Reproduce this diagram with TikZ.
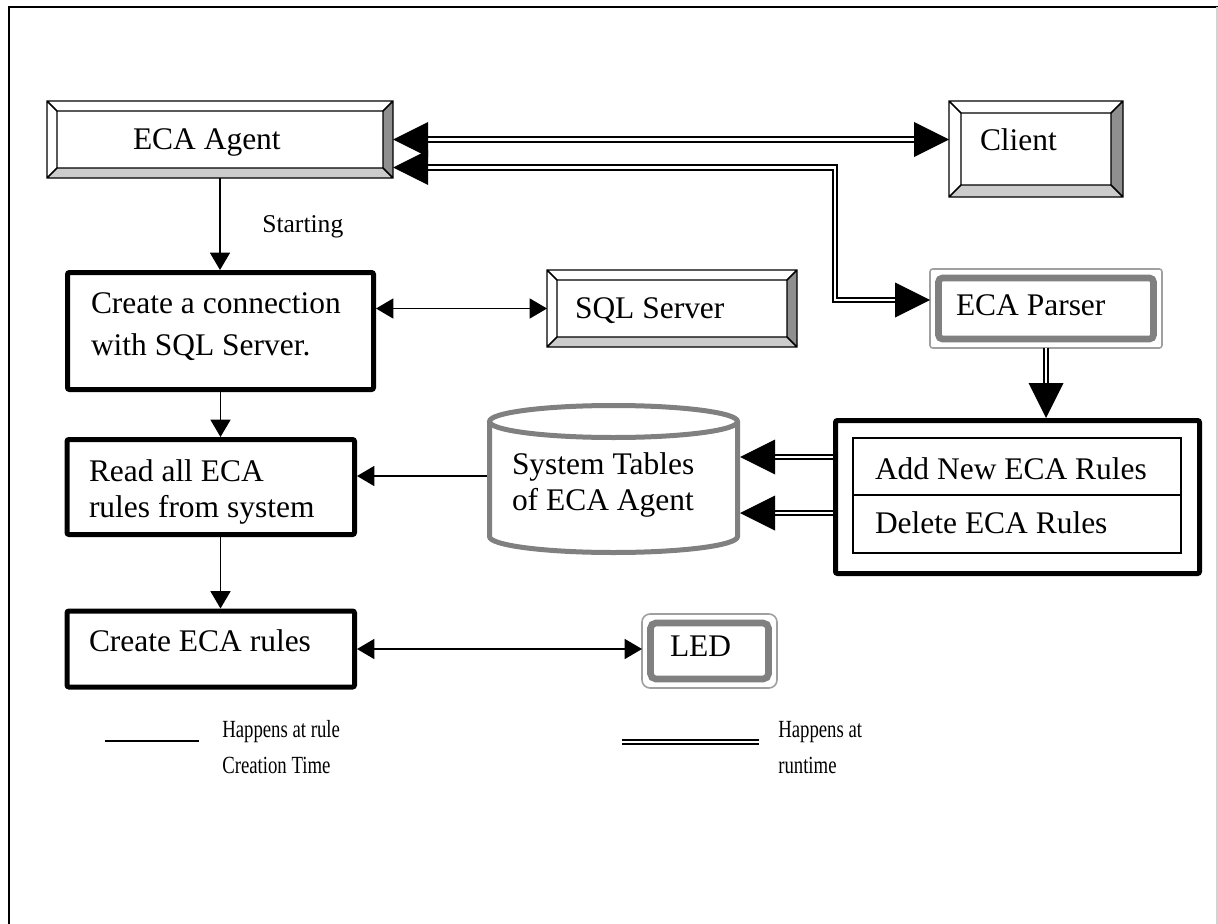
\documentclass[tikz,border=0pt]{standalone}
\usepackage{fontspec}
\setmainfont{Liberation Serif}
\usetikzlibrary{calc,fit,arrows.meta}
\definecolor{bevR}{HTML}{8F8F8F}
\definecolor{bevB}{HTML}{CCCCCC}
\definecolor{pgray}{HTML}{808080}
\definecolor{lgray}{HTML}{A0A0A0}
\newcommand\bevelbox[4]{%
  \node[fit={#2 #3},inner sep=0pt,outer sep=0pt] (#1) {};
  \coordinate (#1-a) at ($(#1.north west)+(#4,#4)$);
  \coordinate (#1-b) at ($(#1.north east)+(-#4,#4)$);
  \coordinate (#1-c) at ($(#1.south east)+(-#4,-#4)$);
  \coordinate (#1-d) at ($(#1.south west)+(#4,-#4)$);
  \fill[white] (#1.north west) rectangle (#1.south east);
  \fill[bevR] (#1.north east) -- (#1.south east) -- (#1-c) -- (#1-b) -- cycle;
  \fill[bevB] (#1.south west) -- (#1.south east) -- (#1-c) -- (#1-d) -- cycle;
  \draw[bevline] (#1.north west) rectangle (#1.south east) (#1-a) rectangle (#1-c)
    (#1.north west) -- (#1-a) (#1.north east) -- (#1-b)
    (#1.south east) -- (#1-c) (#1.south west) -- (#1-d);
}
\newcommand\tipR[1]{\fill (#1) -- ++(-35,-17.5) -- ++(0,35) -- cycle;}
\newcommand\tipL[1]{\fill (#1) -- ++(35,-17.5) -- ++(0,35) -- cycle;}
\newcommand\tipD[1]{\fill (#1) -- ++(-17.5,-35) -- ++(35,0) -- cycle;}
\begin{document}
\begin{tikzpicture}[x=0.75pt,y=-0.75pt,
  txt/.style={anchor=base west,inner sep=0pt,outer sep=0pt,font=\fontsize{23.6pt}{28pt}\selectfont},
  smalltxt/.style={anchor=base west,inner sep=0pt,font=\fontsize{19.2pt}{23pt}\selectfont},
  legtxt/.style={anchor=base west,inner sep=0pt,font=\fontsize{18.5pt}{22pt}\selectfont},
  bevline/.style={line width=1.1pt,line join=miter},
  thickbox/.style={draw,line width=3.75pt,rounded corners=1.5pt,inner sep=0pt,fill=white},
  thinbox/.style={draw,line width=1.1pt,inner sep=0pt,outer sep=0pt},
  arr/.style={line width=1.1pt,-{Triangle[length=13pt,width=15pt]}},
  arrs/.style={line width=1.1pt,{Triangle[length=13pt,width=15pt]}-{Triangle[length=13pt,width=15pt]}},
  dbl/.style={double,double distance=1.7pt,line width=1.5pt},
  cyl/.style={draw=pgray,line width=3.75pt},
]
\useasboundingbox (0,0) rectangle (1218,924);
% frame
\draw[line width=1.5pt] (9,924) -- (9,7) -- (1218,7);
\draw[gray!35,line width=1pt] (1217,7) -- (1217,924);

% beveled boxes
\bevelbox{agent}{(47,101)}{(393,178)}{10}
\node[txt] (agentT) at (133,150) {ECA Agent};
\bevelbox{client}{(949,101)}{(1123,197)}{12}
\node[txt] (clientT) at (980,151) {Client};
\bevelbox{sql}{(547,270)}{(797,347)}{10}
\node[txt] (sqlT) at (575,318) {SQL Server};

% ECA Parser
\node[fit={(930,269) (1162,348)},inner sep=0pt,outer sep=0pt,draw=lgray,line width=1.2pt,rounded corners=2pt] (parser) {};
\draw[pgray,line width=5pt,rounded corners=3pt] ($(parser.north west)+(8.5,9)$) rectangle ($(parser.south east)+(-8.5,-9)$);
\node[txt] (parserT) at (956,315) {ECA Parser};

% LED
\node[fit={(642,614) (777,688)},inner sep=0pt,outer sep=0pt,draw=lgray,line width=1.2pt,rounded corners=6pt] (led) {};
\draw[pgray,line width=5pt,rounded corners=4pt] ($(led.north west)+(8.5,9)$) rectangle ($(led.south east)+(-8.5,-9)$);
\node[txt] (ledT) at (670,656) {LED};

% thick boxes
\node[fit={(67.5,272.5) (373.5,389.5)},thickbox] (conn) {};
\node[txt] (connT1) at (91,313) {Create a connection};
\node[txt] (connT2) at (91,355) {with SQL Server.};
\node[fit={(67,439.5) (354.5,534.5)},thickbox] (read) {};
\node[txt] (readT1) at (89,481) {Read all ECA};
\node[txt] (readT2) at (89,517) {rules from system};
\node[fit={(67,611) (354.5,687)},thickbox] (rules) {};
\node[txt] (rulesT) at (89,651) {Create ECA rules};

% add / delete
\node[fit={(835.5,420.5) (1199.5,573.5)},thickbox] (addbox) {};
\node[fit={(853,438) (1181,495)},thinbox] (addrow) {};
\node[fit={(853,495) (1181,553)},thinbox] (delrow) {};
\node[txt] (addT) at (875,479) {Add New ECA Rules};
\node[txt] (delT) at (875,533) {Delete ECA Rules};

% cylinder
\node[fit={(487,403) (740,555)},inner sep=0pt,outer sep=0pt] (tables) {};
\draw[cyl] (489.5,421.5) -- (489.5,536.5) arc[start angle=180,end angle=0,x radius=124,y radius=16] -- (737.5,421.5);
\draw[cyl] (613.5,421.5) ellipse[x radius=124,y radius=16];
\node[txt] (tablesT1) at (512,474) {System Tables};
\node[txt] (tablesT2) at (512,510) {of ECA Agent};

\node[smalltxt] (startT) at (262,232) {Starting};

% single connectors
\draw[arr] (agent.south) -- (agent.south |- conn.north);
\draw[arr] (conn.south) -- (conn.south |- read.north);
\draw[arr] (conn.south |- read.south) -- (conn.south |- rules.north);
\draw[arrs] (conn.east |- sql.west) -- (sql.west);
\draw[arrs] (rules.east) -- (rules.east -| led.west);
\coordinate (rd) at ($(read.east)+(0,-11)$);
\draw[arr] (rd -| tables.west) -- (rd);

% double connectors
\draw[dbl,shorten <=20pt,shorten >=20pt] (agent.east) -- (agent.east -| client.west);
\tipL{agent.east}
\tipR{agent.east -| client.west}
\coordinate (a2) at ($(agent.east)+(0,28)$);
\coordinate (bend) at (835,300);
\draw[dbl,shorten <=20pt,shorten >=20pt] (a2) -| (bend) -- (bend -| parser.west);
\tipL{a2}
\tipR{bend -| parser.west}
\draw[dbl,shorten >=20pt] (parser.south) -- (parser.south |- addbox.north);
\tipD{parser.south |- addbox.north}
\coordinate (r1) at ($(addbox.west)+(0,-40)$);
\coordinate (r2) at ($(addbox.west)+(0,16)$);
\draw[dbl,shorten >=20pt] (r1) -- (r1 -| tables.east);
\tipL{r1 -| tables.east}
\draw[dbl,shorten >=20pt] (r2) -- (r2 -| tables.east);
\tipL{r2 -| tables.east}

% legend
\coordinate (l1a) at (105,741);
\coordinate (l1b) at (199,741);
\draw[line width=1.5pt] (l1a) -- (l1b);
\node[legtxt] (leg1a) at (222,737) {\scalebox{0.76}[1]{Happens at rule}};
\node[legtxt] (leg1b) at (222,773) {\scalebox{0.76}[1]{Creation Time}};
\coordinate (l2a) at (622,742);
\coordinate (l2b) at (759,742);
\draw[dbl] (l2a) -- (l2b);
\node[legtxt] (leg2a) at (778,737) {\scalebox{0.76}[1]{Happens at}};
\node[legtxt] (leg2b) at (778,773) {\scalebox{0.76}[1]{runtime}};
\end{tikzpicture}
\end{document}
